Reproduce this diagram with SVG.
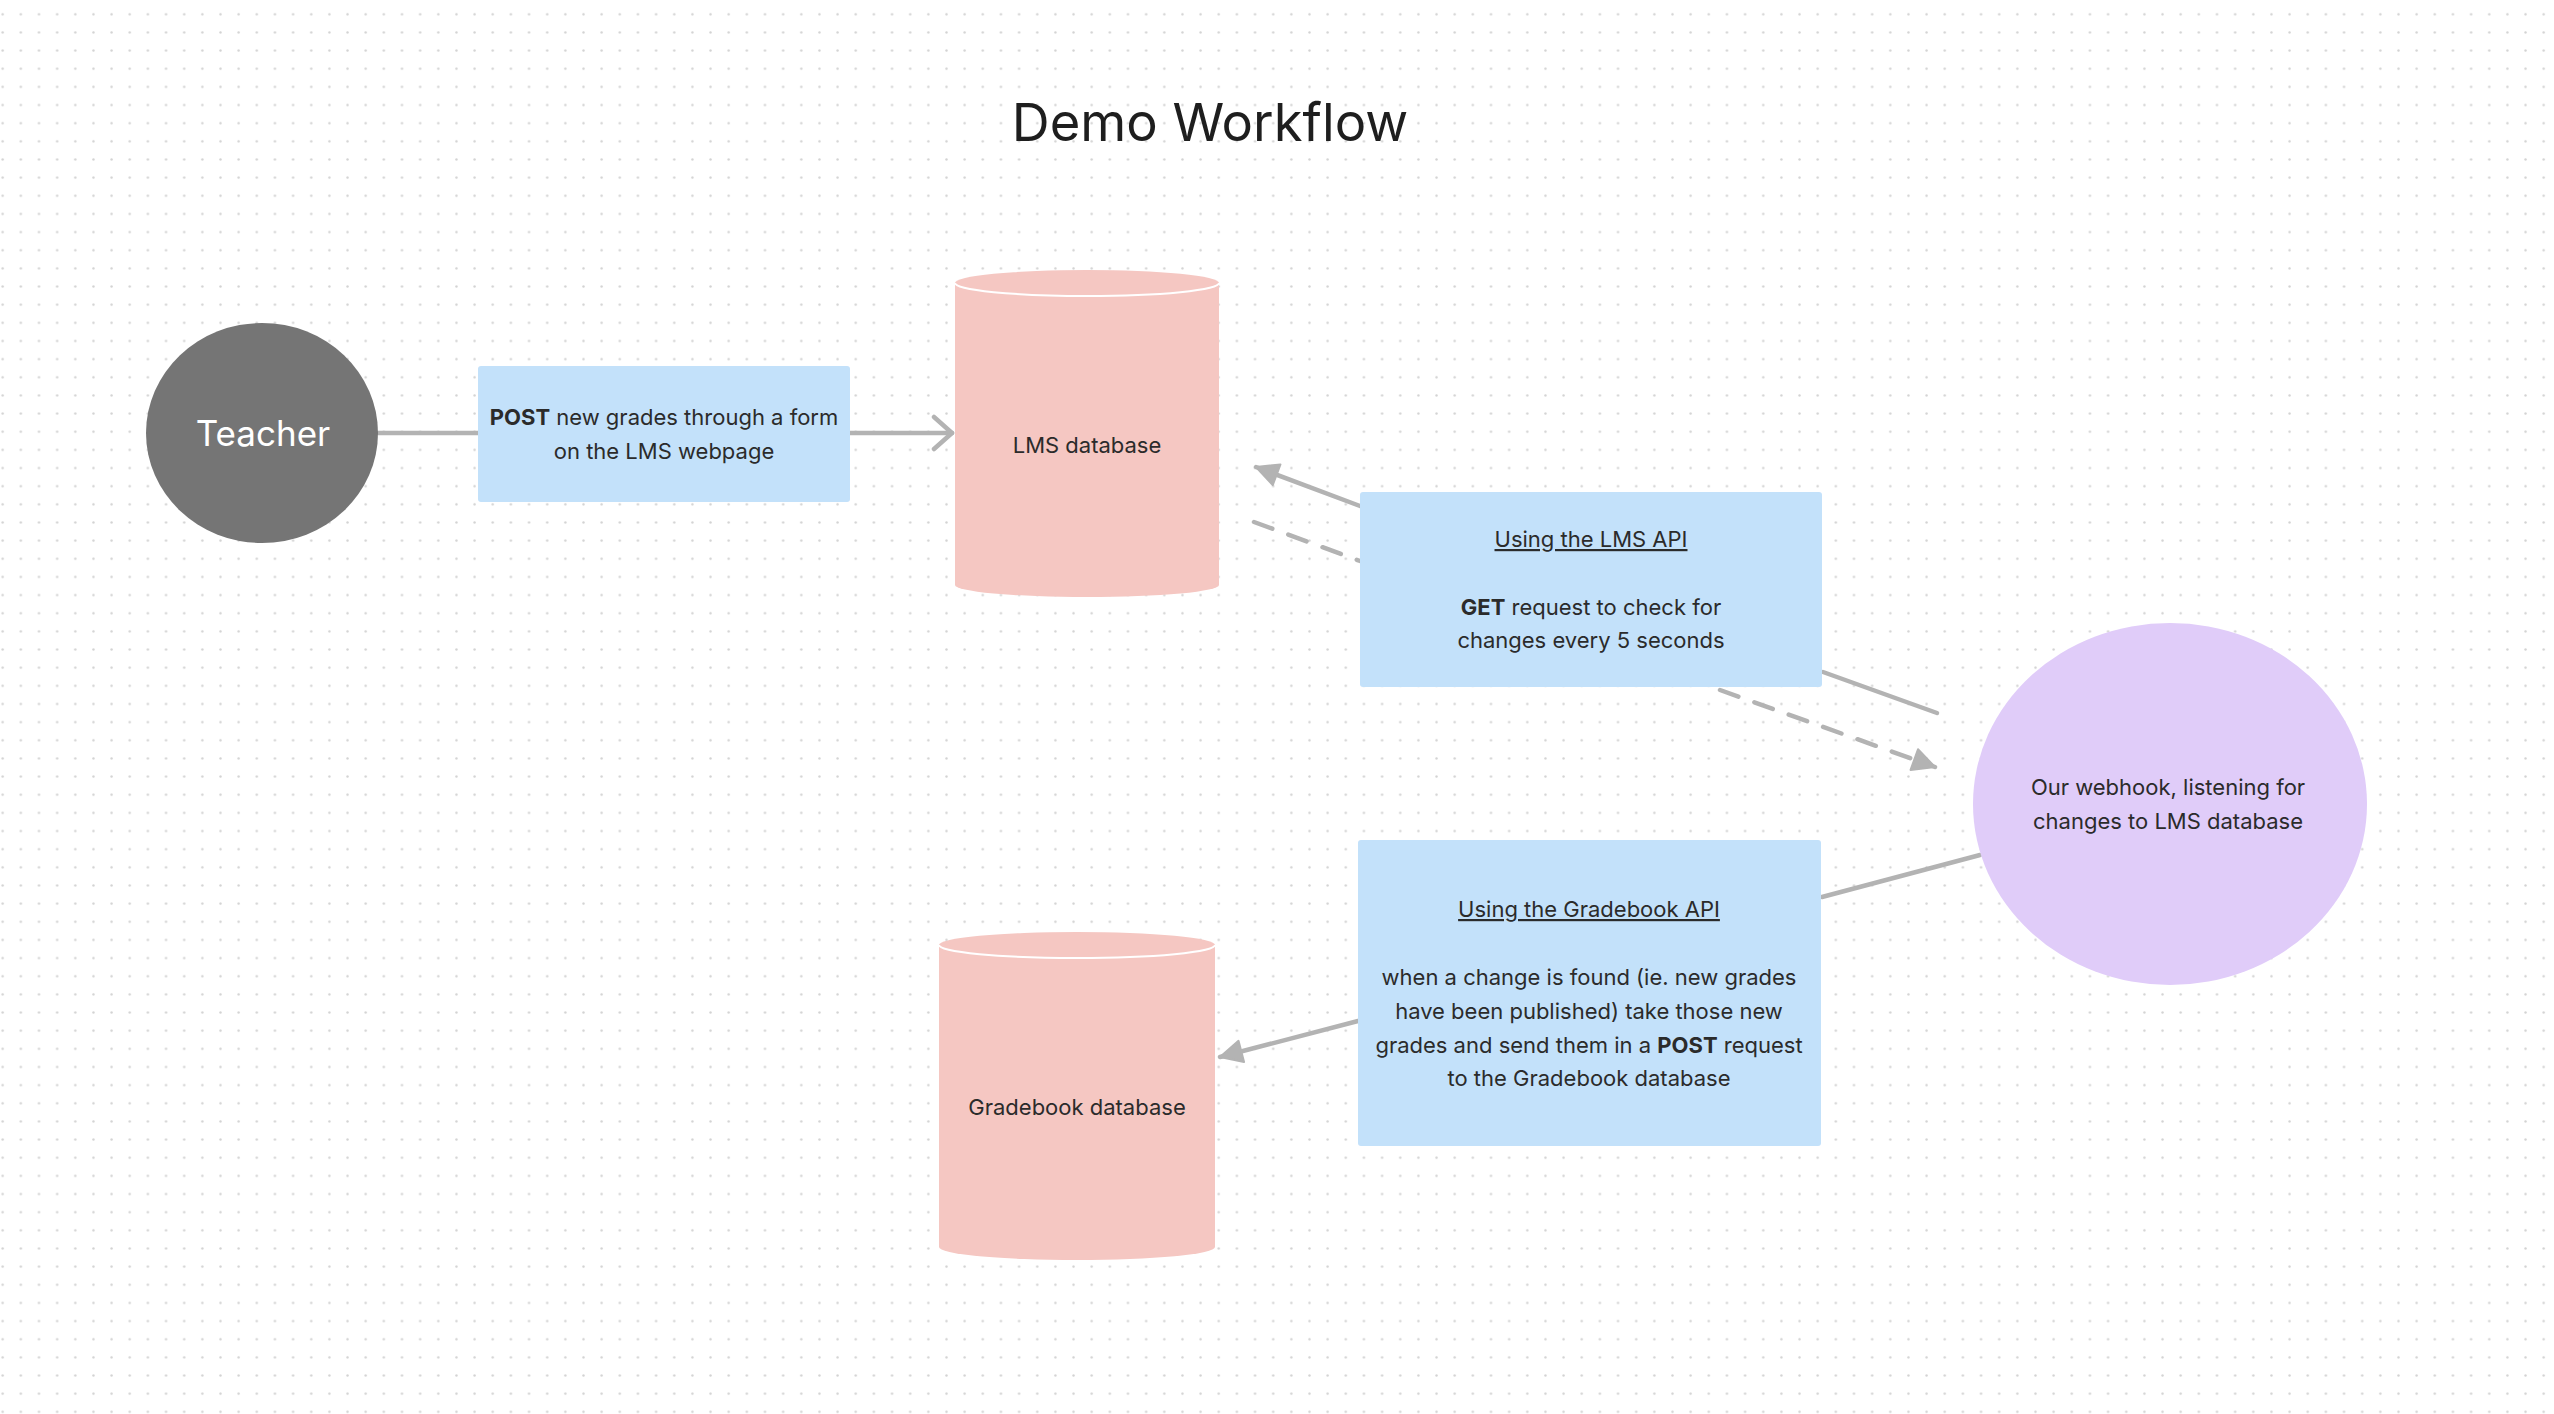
<svg xmlns="http://www.w3.org/2000/svg" width="2554" height="1414" viewBox="0 0 2554 1414">
<defs>
<pattern id="grid" patternUnits="userSpaceOnUse" x="-6.4" y="5.2" width="18.15" height="18.15">
<circle cx="9.1" cy="9.1" r="1.2" fill="#d2d2d2"/>
</pattern>
<marker id="tri" markerUnits="userSpaceOnUse" markerWidth="26" markerHeight="26" viewBox="0 0 26 26" refX="24" refY="13" orient="auto">
<path d="M2,2 L24,13 L2,24 Z" fill="#b3b3b3" stroke="#b3b3b3" stroke-width="2" stroke-linejoin="round"/>
</marker>
<marker id="chev" markerUnits="userSpaceOnUse" markerWidth="26" markerHeight="40" viewBox="0 0 26 40" refX="21" refY="20" orient="auto">
<path d="M3,4 L21,20 L3,36" fill="none" stroke="#b3b3b3" stroke-width="4.5" stroke-linecap="round" stroke-linejoin="round"/>
</marker>
</defs>
<style>
text{font-family:Inter,"Liberation Sans",sans-serif;fill:#2b2b2b;font-size:22px;text-anchor:middle}
.b{font-weight:700}
.u{text-decoration:underline}
.box{fill:#c3e1fa}
.db{fill:#f5c7c2}
.rim{fill:none;stroke:#ffffff;stroke-width:2}
.ln{fill:none;stroke:#b3b3b3;stroke-width:4.5;stroke-linecap:round}
.dash{stroke-dasharray:19.5 17}
</style>
<rect width="2554" height="1414" fill="#ffffff"/>
<rect width="2554" height="1414" fill="url(#grid)"/>

<g id="title"><text x="1210" y="141" style="font-size:52.5px;fill:#1e1e1e">Demo Workflow</text></g>

<g id="connectors">
<path class="ln" d="M378,433 L478,433"/>
<path class="ln" d="M850,433 L952,433" marker-end="url(#chev)"/>
<path class="ln" d="M1360,506 L1256,467" marker-end="url(#tri)"/>
<path class="ln dash" d="M1254,522 L1360,561"/>
<path class="ln" d="M1823,672 L1937,713"/>
<path class="ln dash" d="M1720,690 L1935,767" marker-end="url(#tri)"/>
<path class="ln" d="M1980,855 L1822,897"/>
<path class="ln" d="M1358,1021 L1220,1057" marker-end="url(#tri)"/>
</g>

<g id="teacher">
<ellipse cx="262" cy="433" rx="116" ry="110" fill="#757575"/>
<text x="263" y="446" style="font-size:35px;fill:#ffffff">Teacher</text>
</g>

<g id="post-box">
<rect class="box" x="478" y="366" width="372" height="136" rx="3"/>
<text x="664" y="425"><tspan class="b">POST</tspan> new grades through a form</text>
<text x="664" y="459">on the LMS webpage</text>
</g>

<g id="lms-db">
<path class="db" d="M955,283 A132,13 0 0 1 1219,283 L1219,585 A132,12 0 0 1 955,585 Z"/>
<path class="rim" d="M955,283 A132,13 0 0 0 1219,283"/>
<text x="1087" y="453">LMS database</text>
</g>

<g id="lms-api">
<rect class="box" x="1360" y="492" width="462" height="195" rx="3"/>
<text x="1591" y="547" class="u">Using the LMS API</text>
<text x="1591" y="615"><tspan class="b">GET</tspan> request to check for</text>
<text x="1591" y="648">changes every 5 seconds</text>
</g>

<g id="webhook">
<ellipse cx="2170" cy="804" rx="197" ry="181" fill="#e0ccf9"/>
<text x="2168" y="795">Our webhook, listening for</text>
<text x="2168" y="829">changes to LMS database</text>
</g>

<g id="gradebook-api">
<rect class="box" x="1358" y="840" width="463" height="306" rx="3"/>
<text x="1589" y="917" class="u">Using the Gradebook API</text>
<text x="1589" y="985">when a change is found (ie. new grades</text>
<text x="1589" y="1019">have been published) take those new</text>
<text x="1589" y="1053">grades and send them in a <tspan class="b">POST</tspan> request</text>
<text x="1589" y="1086">to the Gradebook database</text>
</g>

<g id="gradebook-db">
<path class="db" d="M939,945 A138,13 0 0 1 1215,945 L1215,1247 A138,13 0 0 1 939,1247 Z"/>
<path class="rim" d="M939,945 A138,13 0 0 0 1215,945"/>
<text x="1077" y="1115">Gradebook database</text>
</g>
</svg>
